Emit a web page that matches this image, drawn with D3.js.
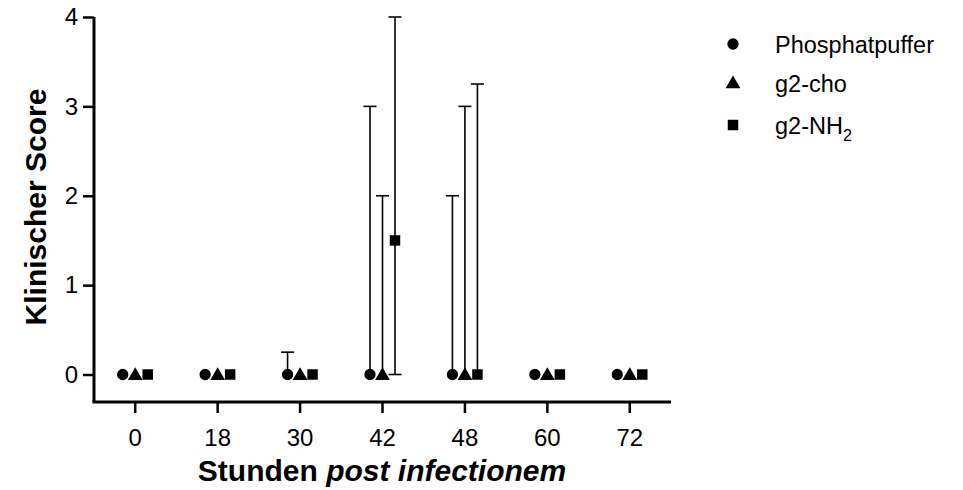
<!DOCTYPE html>
<html>
<head>
<meta charset="utf-8">
<script src="https://cdn.jsdelivr.net/npm/d3@7"></script>
<style>
  html, body { margin: 0; padding: 0; background: #fff; }
  svg text { font-family: "Liberation Sans", Arial, Helvetica, sans-serif; fill: #000; }
</style>
</head>
<body>
<svg id="chart" width="963" height="490"></svg>
<script>
// Time points (hours post infection)
const timepoints = ["0", "18", "30", "42", "48", "60", "72"];
const yTicks = [0, 1, 2, 3, 4];

// Median clinical score per group
const phosphatMedian = [0, 0, 0, 0, 0, 0, 0];
const choMedian      = [0, 0, 0, 0, 0, 0, 0];
const nh2Median      = [0, 0, 0, 1.5, 0, 0, 0];

// Range (low / high) per group
const phosphatLow  = [0, 0, 0, 0, 0, 0, 0];
const phosphatHigh = [0, 0, 0.25, 3, 2, 0, 0];
const choLow       = [0, 0, 0, 0, 0, 0, 0];
const choHigh      = [0, 0, 0, 2, 3, 0, 0];
const nh2Low       = [0, 0, 0, 0, 0, 0, 0];
const nh2High      = [0, 0, 0, 4, 3.25, 0, 0];

const seriesNames = ["Phosphatpuffer", "g2-cho", "g2-NH2"];

const series = [
  { name: seriesNames[0], symbol: d3.symbolCircle, size: 100, offset: -1, median: phosphatMedian, low: phosphatLow, high: phosphatHigh },
  { name: seriesNames[1], symbol: d3.symbolTriangle, size: 95, offset: 0, median: choMedian, low: choLow, high: choHigh },
  { name: seriesNames[2], symbol: d3.symbolSquare, size: 110, offset: 1, median: nh2Median, low: nh2Low, high: nh2High }
];

const svg = d3.select("#chart");

const x = d3.scaleBand().domain(timepoints).range([94, 671]);
const y = d3.scaleLinear().domain([0, 4]).range([374.5, 17]);
const dodge = 12.5;
const axisY = 402;
const axisX = 94;

// Error bars (range) with caps
const capHalf = 6.5;
series.forEach(s => {
  const g = svg.append("g");
  timepoints.forEach((t, i) => {
    const cx = x(t) + x.bandwidth() / 2 + s.offset * dodge;
    const lo = s.low[i], hi = s.high[i], m = s.median[i];
    if (hi > m) {
      g.append("line").attr("x1", cx).attr("x2", cx).attr("y1", y(m)).attr("y2", y(hi))
        .attr("stroke", "#000").attr("stroke-width", 1.6);
      g.append("line").attr("x1", cx - capHalf).attr("x2", cx + capHalf).attr("y1", y(hi)).attr("y2", y(hi))
        .attr("stroke", "#000").attr("stroke-width", 1.6);
    }
    if (lo < m) {
      g.append("line").attr("x1", cx).attr("x2", cx).attr("y1", y(m)).attr("y2", y(lo))
        .attr("stroke", "#000").attr("stroke-width", 1.6);
      g.append("line").attr("x1", cx - capHalf).attr("x2", cx + capHalf).attr("y1", y(lo)).attr("y2", y(lo))
        .attr("stroke", "#000").attr("stroke-width", 1.6);
    }
  });
});

// Markers
series.forEach(s => {
  const sym = d3.symbol().type(s.symbol).size(s.size);
  svg.append("g").selectAll("path")
    .data(timepoints.map((t, i) => ({ t, v: s.median[i] })))
    .join("path")
    .attr("d", sym)
    .attr("fill", "#000")
    .attr("transform", d => {
      const cx = x(d.t) + x.bandwidth() / 2 + s.offset * dodge;
      const dy = s.symbol === d3.symbolTriangle ? 1.2 : 0;
      return `translate(${cx},${y(d.v) + dy})`;
    });
});

// Y axis
const yAxis = svg.append("g").attr("transform", `translate(${axisX},0)`)
  .call(d3.axisLeft(y).tickValues(yTicks).tickFormat(d3.format("d")).tickSize(11).tickPadding(5));
yAxis.select(".domain").attr("d", `M0,${y(4)}V${axisY}`).attr("stroke-width", 3);
yAxis.selectAll(".tick line").attr("stroke-width", 2.5);
yAxis.selectAll(".tick text").attr("font-size", 24);

// X axis
const xAxis = svg.append("g").attr("transform", `translate(0,${axisY})`)
  .call(d3.axisBottom(x).tickSize(11).tickPadding(16));
xAxis.select(".domain").attr("d", `M${axisX - 1.5},0H${671}`).attr("stroke-width", 3);
xAxis.selectAll(".tick line").attr("stroke-width", 2.5);
xAxis.selectAll(".tick text").attr("font-size", 24);

// Axis titles
svg.append("text")
  .attr("transform", "translate(46,207) rotate(-90)")
  .attr("text-anchor", "middle")
  .attr("font-size", 30).attr("font-weight", "bold")
  .text("Klinischer Score");

const xt = svg.append("text")
  .attr("x", 382).attr("y", 481)
  .attr("text-anchor", "middle")
  .attr("font-size", 30).attr("font-weight", "bold");
xt.append("tspan").text("Stunden ");
xt.append("tspan").attr("font-style", "italic").text("post infectionem");

// Legend
const legend = svg.append("g");
const legendY = [44, 83, 125];
series.forEach((s, i) => {
  legend.append("path")
    .attr("d", d3.symbol().type(s.symbol).size(s.size)())
    .attr("fill", "#000")
    .attr("transform", `translate(733,${legendY[i] + (s.symbol === d3.symbolTriangle ? 1 : 0)})`);
  const txt = legend.append("text").attr("x", 775).attr("y", legendY[i] + 8.5).attr("font-size", 23.5);
  if (i === 2) {
    txt.append("tspan").text("g2-NH");
    txt.append("tspan").attr("font-size", 16).attr("dy", 7).text("2");
  } else {
    txt.text(s.name);
  }
});
</script>
</body>
</html>
